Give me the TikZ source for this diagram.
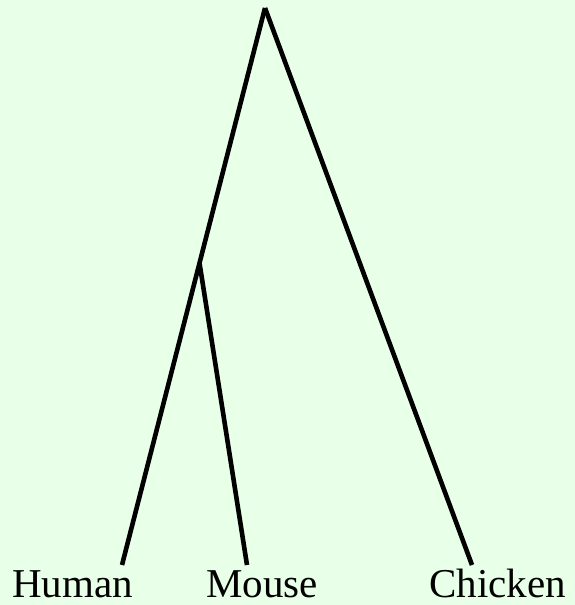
\documentclass[tikz,border=0pt]{standalone}
\usepackage{fontspec}
\setmainfont{Liberation Serif}
\definecolor{bgc}{RGB}{232,255,232}
\begin{document}
\begin{tikzpicture}[x=1pt,y=-1pt,
  branch/.style={line width=4.6pt,line cap=butt},
  taxon/.style={anchor=base west,inner sep=0pt,font=\fontsize{41}{44}\selectfont}]
\fill[bgc] (0,0) rectangle (575,605);
\useasboundingbox (0,0) rectangle (575,605);
\coordinate (root) at (265,8);
\coordinate (hm) at (199.5,263);
\coordinate (h) at (122,565);
\coordinate (m) at (247,565);
\coordinate (c) at (472,565);
\draw[branch] (root) -- (h);
\draw[branch] (hm) -- (m);
\draw[branch] (root) -- (c);
\node[taxon] (human) at (12,597) {Human};
\node[taxon] (mouse) at (206,597) {Mouse};
\node[taxon] (chicken) at (429,597) {Chicken};
\end{tikzpicture}
\end{document}
